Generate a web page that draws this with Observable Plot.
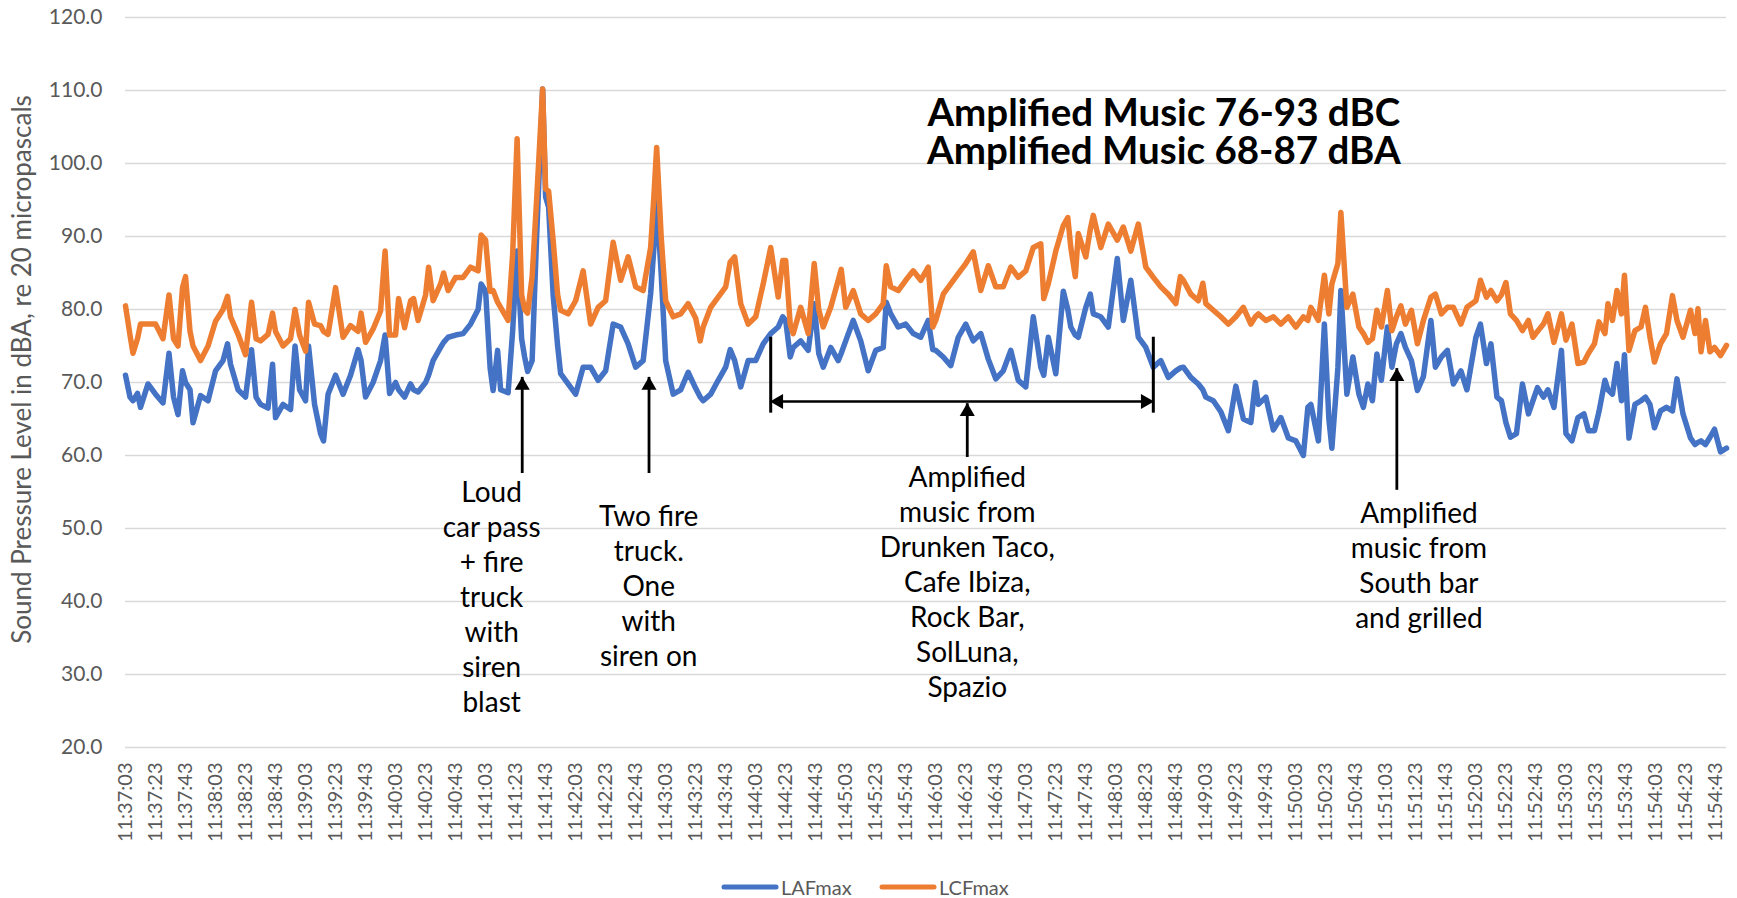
<!DOCTYPE html>
<html>
<head>
<meta charset="utf-8">
<script src="https://cdn.jsdelivr.net/npm/d3@7"></script>
<script src="https://cdn.jsdelivr.net/npm/@observablehq/plot@0.6"></script>
<style>
  html, body { margin: 0; padding: 0; background: #fff; overflow: hidden; }
  #wrap { position: relative; width: 1737px; height: 898px; font-family: Lato, sans-serif; }
  #legend { position: absolute; left: 0; top: 876px; width: 1737px; height: 22px; color: #595959; font-size: 20px; }
  #legend .sw { position: absolute; top: 0; }
  #legend .lb { position: absolute; top: 0; line-height: 22px; }
</style>
</head>
<body>
<div id="wrap"><div id="chart"></div>
<div id="legend"></div></div>
<script>
// ---- data (seconds after 11:37:03, sound levels in dB) ----
const secs = [
  0,3,5,8,10,15,20,25,29,32,35,38,40,43,45,50,55,60,65,68,70,75,80,84,87,90,95,98,100,105,
  110,113,116,120,122,126,130,132,135,140,145,150,155,157,160,165,170,173,176,180,182,186,190,192,195,200,202,205,210,212,
  215,220,225,230,235,237,240,243,245,248,250,255,258,261,264,266,268,271,274,278,280,282,285,288,290,295,300,305,310,315,
  320,325,330,335,340,345,350,352,354,357,360,365,370,375,380,383,385,390,395,400,403,406,410,415,420,425,430,435,438,440,
  443,445,450,455,459,462,465,470,475,477,480,485,490,495,500,505,507,510,515,520,525,530,535,538,540,545,550,555,560,565,
  570,575,580,585,590,595,600,605,610,612,615,620,625,628,630,633,635,640,643,645,650,655,661,665,670,675,680,685,690,695,
  700,703,705,710,715,718,720,725,730,735,740,745,750,753,755,760,765,770,775,780,785,788,790,795,799,802,804,808,810,814,
  818,822,825,828,831,834,837,841,844,847,850,853,857,861,865,870,873,877,881,885,890,894,900,903,907,910,914,917,920,923,
  927,931,935,938,941,945,948,952,957,960,964,968,972,975,979,982,986,988,991,994,997,999,1002,1006,1010,1013,1016,1019,1023,1027,
  1031,1034,1038,1043,1046,1048,1050,1053,1056,1059,1063,1067
];
const lcfmax = [
  80.5,76.5,74,76,78,78,78,76,82,76,75,83,84.5,77,75,73,75,78.4,80,81.8,79,76.6,73.8,81,76,75.7,76.6,79.5,77,75,
  76,80,76.5,74.3,81,78,77.8,77,76.6,83,76.2,77.8,77,79.5,75.5,77.3,79.8,88,76.5,76.5,81.5,77.5,81.2,81.5,78.5,82,85.8,81.2,83.5,85,
  82.6,84.4,84.4,85.8,85.3,90.2,89.5,82.5,82.6,81,80.3,78.5,87.5,103.4,82,80,79.5,84.5,95,110.2,96.5,96.2,89.5,82,79.9,79.4,81.2,85.3,78,80.3,
  81.2,89.2,84,87.2,83.1,82.6,88.5,95,102.2,90,81.2,79,79.4,80.8,78.8,75.7,77.6,80.3,81.7,83.1,86.5,87.2,80.8,78,79,83.5,88.5,81.7,86.7,86.7,
  78,76.7,80.3,76.7,86.3,80,77.6,80.3,84,85.5,80.3,82.6,79.4,78.5,79.4,80.8,86,83.1,82.6,84,85.3,84,85.8,77.6,78.5,82.1,83.5,84.9,86.3,87.9,
  82.6,86,83.1,83.1,85.8,84.4,85.3,88.5,89,81.5,83.5,88,91.5,92.6,88.5,84.5,90.4,87.2,91,92.9,88.5,91.7,89.5,91.3,88,91.7,85.8,84.4,83.1,82.1,
  80.8,84.5,84,82.1,81.2,83.6,80.8,79.9,79,78,79,80.3,78,79,79.4,78.5,79,78,79,77.6,79,78.5,80.3,78.5,84.7,79.4,83.5,86.3,93.3,80.3,
  82.1,77.6,76.7,75.5,76,79.9,77.6,82.6,77.1,79,80.5,78,79.9,75.3,78.5,81.7,82.1,79.4,80.3,80.3,78,80.3,81.2,84,81.7,82.6,81.2,82,83.7,79.4,
  78.5,77.1,78.5,76.2,77,78,79.4,75.5,79.4,75.8,78,72.6,72.8,74,75.3,78.3,76.7,80.8,78.5,82.6,79.4,84.7,74.4,77.1,77.6,80.3,76.2,72.8,75.3,76.7,
  81.9,78.5,76.2,79.9,76.7,80.1,74.2,78.5,74.2,74.8,73.7,75.1
];
const lafmax = [
  71,68,67.5,68.5,66.6,69.8,68.4,67.2,74,68,65.6,71.6,70,69,64.5,68.2,67.5,71.6,73,75.3,72.5,69,68,74.5,68,67,66.5,72.5,65.2,67,
  66.3,75,69,67.5,75,67,63,62,68.4,71,68.4,71,74.5,73,68,70,73,76.5,68.5,70,69,68,69.8,69,68.7,70,71,73,74.8,75.5,
  76.2,76.5,76.7,78,80,83.5,82.5,72,68.9,74.4,69,68.6,77,88,76,73.5,71.5,73,90,110.2,95.4,94,82,75,71.2,69.8,68.4,72.1,72.1,70.3,
  71.6,78,77.6,75.3,72.1,73,82.2,88,95,85,73,68.4,69,71.4,69.2,68,67.5,68.4,70.3,72.1,74.5,73,69.4,73,73,75.3,76.7,77.6,79,78.5,
  73.5,74.8,75.7,74.4,80.8,74,72.1,74.8,73,74,75.7,78.5,75.7,71.6,74.4,74.8,81,79.4,77.6,78,76.7,76.2,78.5,74.5,74.4,73.5,72.3,76.2,78,75.7,
  76.7,73.2,70.5,71.6,74.4,70.3,69.4,79,72.1,71,76.2,71.2,82.5,80,77.6,76.5,76.2,80.3,82.1,79.4,79,77.6,87,78.5,84,76.2,74.8,72.1,73,70.7,
  71.6,72,72.1,70.7,69.8,69,68,67.5,66,63.4,69.5,65,64.5,70,67,68,63.5,65.2,62.4,62,60,66.6,67,62,78,65,61,72,82.6,68.4,
  73.5,68.4,66.6,69.8,67.5,73.9,70.3,77.6,72.1,75.3,76.7,74.8,73,68.9,70.8,78.5,72.1,73.5,74.4,69.8,71.6,69,76.2,78,72.6,75.3,68,67.5,64.5,62.5,
  63,69.8,65.7,67.5,69.3,68,69,66.6,74.4,63,62,65.2,65.7,63.4,63.4,66,70.3,69,68.4,72.6,67.5,73.8,62.4,67,67.5,68,67,63.8,66.1,66.6,
  66.1,70.5,65.7,62.4,61.5,61.8,62,61.5,62.5,63.6,60.5,61
];
const seriesNames = ["LAFmax", "LCFmax"];
const seriesColors = ["#4472C4", "#ED7D31"];
const yTicks = [20, 30, 40, 50, 60, 70, 80, 90, 100, 110, 120];
const tickSecs = d3.range(0, 1061, 20);           // a label every 20 s, 11:37:03 … 11:54:43
const yTitle = "Sound Pressure Level in dBA, re 20 micropascals";
const titleLines = ["Amplified Music 76-93 dBC", "Amplified Music 68-87 dBA"];
const titleBaselineDb = [105.1, 99.9];
// annotations
const noteSecs = [244, 348.7, 561, 862];
const noteDb = [40.8, 42.3, 42.9, 45.1];
const noteTexts = [
  "Loud\ncar pass\n+ fire\ntruck\nwith\nsiren\nblast",
  "Two fire\ntruck.\nOne\nwith\nsiren on",
  "Amplified\nmusic from\nDrunken Taco,\nCafe Ibiza,\nRock Bar,\nSolLuna,\nSpazio",
  "Amplified\nmusic from\nSouth bar\nand grilled"
];
const arrowSecs = [264.4, 348.9, 561, 847.3];
const arrowTipDb = [70.7, 70.7, 67.1, 71.9];
const arrowBaseDb = [58.9, 58.9, 61.1, 56.6];
const bracketSecs = [430, 685];
const bracketTopDb = 76.2, bracketBottomDb = 65.8, bracketArrowDb = 67.4;

// ---- build ----
const t0 = new Date(2000, 0, 1, 11, 37, 3);
const toDate = s => new Date(t0.getTime() + s * 1000);
const laf = secs.map((s, i) => ({t: toDate(s), v: lafmax[i]}));
const lcf = secs.map((s, i) => ({t: toDate(s), v: lcfmax[i]}));
const notes = noteSecs.map((s, i) => ({t: toDate(s), v: noteDb[i], text: noteTexts[i]}));
const arrows = arrowSecs.map((s, i) => ({t: toDate(s), tip: arrowTipDb[i], base: arrowBaseDb[i]}));
const bars = bracketSecs.map(s => ({t: toDate(s), y1: bracketBottomDb, y2: bracketTopDb}));
const titles = titleLines.map((text, i) => ({t: toDate(692), v: titleBaselineDb[i], text}));
const fmt = d3.timeFormat("%H:%M:%S");

const chart = Plot.plot({
  width: 1737,
  height: 870,
  marginLeft: 125,
  marginRight: 11,
  marginTop: 17,
  marginBottom: 123,
  style: {fontFamily: "Lato, sans-serif", background: "#fff"},
  x: {type: "time", domain: [toDate(0), toDate(1067)], ticks: tickSecs.map(toDate), tickFormat: fmt, label: null},
  y: {domain: [20, 120], ticks: yTicks, tickFormat: d => d.toFixed(1), label: null},
  marks: [
    Plot.gridY(yTicks, {stroke: "#d9d9d9", strokeOpacity: 1, strokeWidth: 1.6}),
    Plot.axisY(yTicks, {tickSize: 0, tickPadding: 23, fontSize: 21, fill: "#595959", tickFormat: d => d.toFixed(1)}),
    Plot.axisX(tickSecs.map(toDate), {tickSize: 0, tickPadding: 15, tickRotate: -90, fontSize: 20, fill: "#595959", tickFormat: fmt}),
    Plot.text([yTitle], {text: d => d, frameAnchor: "left", rotate: -90, textAnchor: "middle", dx: -103, dy: -13, fontSize: 26, fill: "#595959"}),
    Plot.line(laf, {x: "t", y: "v", stroke: seriesColors[0], strokeWidth: 5.5, strokeLinejoin: "round", strokeLinecap: "round"}),
    Plot.line(lcf, {x: "t", y: "v", stroke: seriesColors[1], strokeWidth: 5.5, strokeLinejoin: "round", strokeLinecap: "round"}),
    // title (two lines, baseline-anchored)
    Plot.text(titles, {x: "t", y: "v", text: "text", lineAnchor: "bottom", fontSize: 38.5, fontWeight: "bold", fill: "#000"}),
    // annotation arrows
    Plot.ruleX(arrows, {x: "t", y1: "base", y2: "tip", stroke: "#000", strokeWidth: 2.8, insetTop: 10}),
    Plot.dot(arrows, {x: "t", y: "tip", symbol: "triangle", r: 5.6, fill: "#000", stroke: null, dy: 8}),
    // bracket
    Plot.ruleX(bars, {x: "t", y1: "y1", y2: "y2", stroke: "#000", strokeWidth: 3}),
    Plot.ruleY([bracketArrowDb], {x1: toDate(bracketSecs[0]), x2: toDate(bracketSecs[1]), stroke: "#000", strokeWidth: 2.6, insetLeft: 10, insetRight: 10}),
    Plot.dot([{t: toDate(bracketSecs[0]), v: bracketArrowDb}], {x: "t", y: "v", symbol: "triangle", r: 5.6, rotate: -90, fill: "#000", stroke: null, dx: 8}),
    Plot.dot([{t: toDate(bracketSecs[1]), v: bracketArrowDb}], {x: "t", y: "v", symbol: "triangle", r: 5.6, rotate: 90, fill: "#000", stroke: null, dx: -8}),
    // annotation texts
    Plot.text(notes, {x: "t", y: "v", text: "text", lineAnchor: "middle", lineHeight: 1.25, fontSize: 28, fill: "#000"})
  ]
});
document.getElementById("chart").appendChild(chart);

// legend (below the svg)
const legend = document.getElementById("legend");
const legendLeft = [720, 878];
const legendTextLeft = [781, 939];
seriesNames.forEach((name, i) => {
  const sw = document.createElementNS("http://www.w3.org/2000/svg", "svg");
  sw.setAttribute("class", "sw");
  sw.setAttribute("width", 60); sw.setAttribute("height", 22);
  sw.style.left = legendLeft[i] + "px";
  const ln = document.createElementNS("http://www.w3.org/2000/svg", "line");
  ln.setAttribute("x1", 4); ln.setAttribute("x2", 56); ln.setAttribute("y1", 11); ln.setAttribute("y2", 11);
  ln.setAttribute("stroke", seriesColors[i]); ln.setAttribute("stroke-width", 5); ln.setAttribute("stroke-linecap", "round");
  sw.appendChild(ln);
  legend.appendChild(sw);
  const lb = document.createElement("div");
  lb.className = "lb"; lb.textContent = name; lb.style.left = legendTextLeft[i] + "px";
  legend.appendChild(lb);
});
</script>
</body>
</html>
